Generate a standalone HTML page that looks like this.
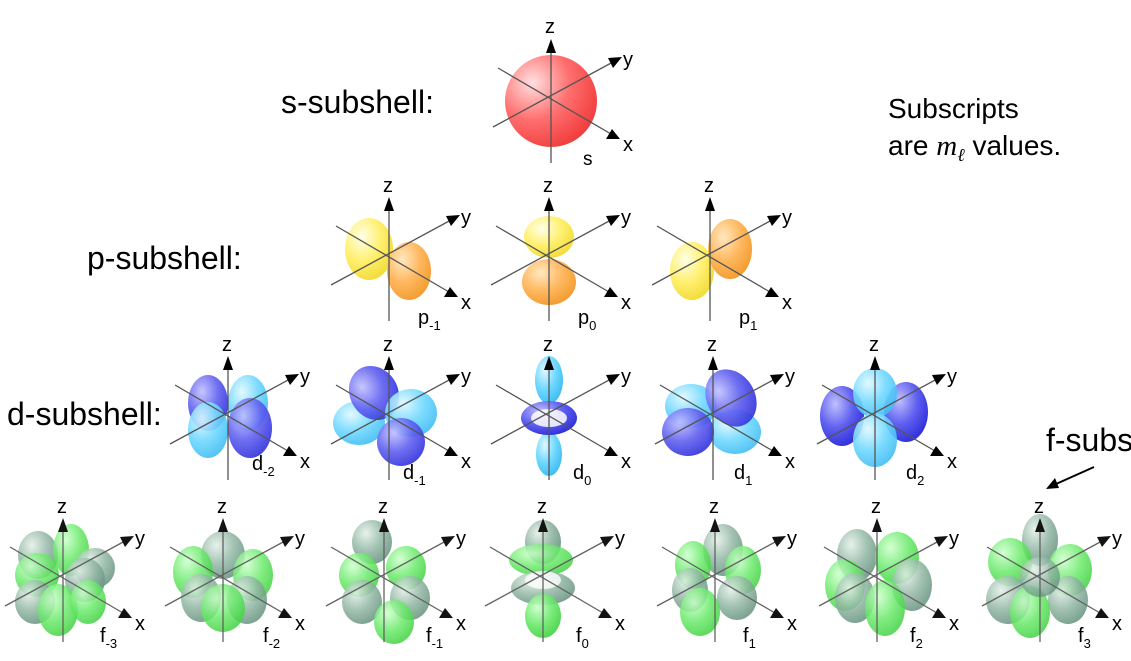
<!DOCTYPE html>
<html><head><meta charset="utf-8"><style>
html,body{margin:0;padding:0;background:#fff;}
svg{display:block;font-family:"Liberation Sans",sans-serif;}
</style></head><body>
<svg width="1131" height="661" viewBox="0 0 1131 661" xmlns="http://www.w3.org/2000/svg">
<defs>
<radialGradient id="red" cx="0.3" cy="0.3" r="0.8"><stop offset="0" stop-color="#ffe0e0"/><stop offset="0.5" stop-color="#ff7070"/><stop offset="1" stop-color="#f03838"/></radialGradient>
<radialGradient id="yel" cx="0.35" cy="0.3" r="0.8"><stop offset="0" stop-color="#ffffe8"/><stop offset="0.5" stop-color="#fff070"/><stop offset="1" stop-color="#f0d830"/></radialGradient>
<radialGradient id="org" cx="0.35" cy="0.3" r="0.8"><stop offset="0" stop-color="#ffe8c0"/><stop offset="0.5" stop-color="#ffb860"/><stop offset="1" stop-color="#f09828"/></radialGradient>
<radialGradient id="db" cx="0.35" cy="0.3" r="0.8"><stop offset="0" stop-color="#c0c0ff"/><stop offset="0.5" stop-color="#6060f0"/><stop offset="1" stop-color="#2828d8"/></radialGradient>
<radialGradient id="lb" cx="0.35" cy="0.3" r="0.8"><stop offset="0" stop-color="#e0f8ff"/><stop offset="0.5" stop-color="#70d8ff"/><stop offset="1" stop-color="#38b8f0"/></radialGradient>
<radialGradient id="gg" cx="0.35" cy="0.3" r="0.8"><stop offset="0" stop-color="#c8ffc8"/><stop offset="0.5" stop-color="#60e860"/><stop offset="1" stop-color="#28c828"/></radialGradient>
<radialGradient id="gy" cx="0.35" cy="0.3" r="0.8"><stop offset="0" stop-color="#e0eee6"/><stop offset="0.5" stop-color="#88b09c"/><stop offset="1" stop-color="#4e806a"/></radialGradient>
<g id="ax" stroke="#555" stroke-width="1.3" fill="#000">
<line x1="0" y1="62" x2="0" y2="-50"/>
<polygon points="0,-62 -5,-48 5,-48" stroke="none"/>
<line x1="-58" y1="26" x2="62" y2="-39"/>
<polygon points="71,-44 57,-43 62,-33" stroke="none"/>
<line x1="-53" y1="-33" x2="60" y2="33"/>
<polygon points="69,38 55,38 61,28" stroke="none"/>
</g>
</defs>

<g font-size="32" fill="#000">
<text x="281" y="113">s-subshell:</text>
<text x="87" y="269">p-subshell:</text>
<text x="7" y="425">d-subshell:</text>
<text x="1046" y="451">f-subs</text>
</g>
<g font-size="28" fill="#000">
<text x="888" y="118">Subscripts</text>
<text x="888" y="155">are <tspan font-family="Liberation Serif" font-style="italic" font-size="29">m</tspan><tspan font-family="Liberation Serif" font-style="italic" font-size="18" dy="6">ℓ</tspan><tspan dy="-6"> values.</tspan></text>
</g>
<line x1="1094" y1="467" x2="1056" y2="484" stroke="#000" stroke-width="2"/>
<polygon points="1046,489 1055,478 1059,488" fill="#000"/>

<!-- s -->
<g transform="translate(551,101)">
<circle r="46" fill="url(#red)"/>
<use href="#ax"/>
</g>

<!-- p -->
<g transform="translate(389,259)">
<ellipse cx="-20" cy="-10" rx="24" ry="31" fill="url(#yel)"/>
<ellipse cx="20" cy="12" rx="22" ry="29" fill="url(#org)"/>
<use href="#ax"/></g>
<g transform="translate(549,259)">
<ellipse cx="0" cy="-22" rx="25" ry="21" fill="url(#yel)"/>
<ellipse cx="0" cy="23" rx="27" ry="23" fill="url(#org)"/>
<use href="#ax"/></g>
<g transform="translate(710,259)">
<ellipse cx="-18" cy="12" rx="22" ry="29" fill="url(#yel)"/>
<ellipse cx="20" cy="-10" rx="22" ry="30" fill="url(#org)"/>
<use href="#ax"/></g>

<!-- d -->
<g transform="translate(228,418)">
<ellipse cx="-20" cy="-15" rx="20" ry="28" fill="url(#db)" opacity="0.9"/>
<ellipse cx="20" cy="-15" rx="20" ry="28" fill="url(#lb)" opacity="0.9"/>
<ellipse cx="-20" cy="12" rx="20" ry="28" fill="url(#lb)" opacity="0.9"/>
<ellipse cx="22" cy="10" rx="22" ry="30" fill="url(#db)" opacity="0.9"/>
<use href="#ax"/></g>
<g transform="translate(389,418)">
<ellipse cx="-30" cy="5" rx="26" ry="22" fill="url(#lb)" opacity="0.9"/>
<ellipse cx="-15" cy="-25" rx="24" ry="28" fill="url(#db)" transform="rotate(-30 -15 -25)" opacity="0.9"/>
<ellipse cx="22" cy="-5" rx="26" ry="24" fill="url(#lb)" opacity="0.9"/>
<ellipse cx="12" cy="24" rx="24" ry="24" fill="url(#db)" opacity="0.9"/>
<use href="#ax"/></g>
<g transform="translate(549,418)">
<ellipse cx="0" cy="-38" rx="14" ry="24" fill="url(#lb)"/>
<ellipse cx="0" cy="36" rx="13" ry="22" fill="url(#lb)"/>
<ellipse cx="0" cy="0" rx="28" ry="17" fill="url(#db)"/>
<ellipse cx="0" cy="0" rx="18" ry="9" fill="#fff" opacity="0.85"/>
<use href="#ax"/></g>
<g transform="translate(713,418)">
<ellipse cx="-22" cy="-12" rx="26" ry="22" fill="url(#lb)" opacity="0.9"/>
<ellipse cx="22" cy="14" rx="26" ry="22" fill="url(#lb)" opacity="0.9"/>
<ellipse cx="18" cy="-20" rx="24" ry="30" fill="url(#db)" transform="rotate(-30 18 -20)" opacity="0.9"/>
<ellipse cx="-25" cy="14" rx="26" ry="24" fill="url(#db)" opacity="0.9"/>
<use href="#ax"/></g>
<g transform="translate(875,418)">
<ellipse cx="-33" cy="-2" rx="22" ry="30" fill="url(#db)"/>
<ellipse cx="31" cy="-6" rx="22" ry="30" fill="url(#db)"/>
<ellipse cx="0" cy="-25" rx="22" ry="25" fill="url(#lb)" opacity="0.9"/>
<ellipse cx="0" cy="22" rx="22" ry="27" fill="url(#lb)" opacity="0.9"/>
<use href="#ax"/></g>

<!-- f -->
<g opacity="0.92">
<g transform="translate(63,580)">
<ellipse cx="-25" cy="-25" rx="20" ry="24" fill="url(#gy)" opacity="0.85"/>
<ellipse cx="8" cy="-30" rx="18" ry="26" fill="url(#gg)" opacity="0.85"/>
<ellipse cx="32" cy="-12" rx="20" ry="20" fill="url(#gy)" opacity="0.85"/>
<ellipse cx="-26" cy="-5" rx="22" ry="22" fill="url(#gg)" opacity="0.85"/>
<ellipse cx="22" cy="0" rx="20" ry="22" fill="url(#gy)" opacity="0.85"/>
<ellipse cx="-28" cy="22" rx="20" ry="22" fill="url(#gy)" opacity="0.85"/>
<ellipse cx="-5" cy="30" rx="20" ry="26" fill="url(#gg)" opacity="0.85"/>
<ellipse cx="25" cy="22" rx="18" ry="22" fill="url(#gg)" opacity="0.85"/>
<use href="#ax"/></g>
<g transform="translate(223,580)">
<ellipse cx="0" cy="-25" rx="22" ry="24" fill="url(#gy)" opacity="0.85"/>
<ellipse cx="-30" cy="-8" rx="20" ry="26" fill="url(#gg)" opacity="0.85"/>
<ellipse cx="30" cy="-5" rx="20" ry="26" fill="url(#gg)" opacity="0.85"/>
<ellipse cx="-22" cy="18" rx="20" ry="24" fill="url(#gy)" opacity="0.85"/>
<ellipse cx="24" cy="20" rx="20" ry="24" fill="url(#gy)" opacity="0.85"/>
<ellipse cx="0" cy="28" rx="22" ry="24" fill="url(#gg)" opacity="0.85"/>
<use href="#ax"/></g>
<g transform="translate(384,580)">
<ellipse cx="-12" cy="-38" rx="20" ry="22" fill="url(#gy)" opacity="0.85"/>
<ellipse cx="-25" cy="-5" rx="20" ry="22" fill="url(#gg)" opacity="0.85"/>
<ellipse cx="22" cy="-12" rx="20" ry="22" fill="url(#gg)" opacity="0.85"/>
<ellipse cx="-22" cy="22" rx="20" ry="22" fill="url(#gy)" opacity="0.85"/>
<ellipse cx="26" cy="18" rx="20" ry="22" fill="url(#gy)" opacity="0.85"/>
<ellipse cx="10" cy="42" rx="20" ry="22" fill="url(#gg)" opacity="0.85"/>
<use href="#ax"/></g>
<g transform="translate(543,580)">
<ellipse cx="0" cy="-38" rx="18" ry="22" fill="url(#gy)" opacity="0.9"/>
<ellipse cx="-2" cy="-20" rx="32" ry="16" fill="url(#gg)" opacity="0.85"/>
<ellipse cx="0" cy="8" rx="32" ry="17" fill="url(#gy)" opacity="0.85"/>
<ellipse cx="0" cy="0" rx="18" ry="9" fill="#fff" opacity="0.8"/>
<ellipse cx="0" cy="36" rx="18" ry="22" fill="url(#gg)" opacity="0.9"/>
<use href="#ax"/></g>
<g transform="translate(715,580)">
<ellipse cx="8" cy="-30" rx="20" ry="26" fill="url(#gy)" opacity="0.85"/>
<ellipse cx="-22" cy="-15" rx="18" ry="24" fill="url(#gg)" opacity="0.85"/>
<ellipse cx="28" cy="-10" rx="18" ry="24" fill="url(#gg)" opacity="0.85"/>
<ellipse cx="-25" cy="10" rx="18" ry="22" fill="url(#gy)" opacity="0.85"/>
<ellipse cx="22" cy="18" rx="20" ry="22" fill="url(#gy)" opacity="0.85"/>
<ellipse cx="-15" cy="32" rx="20" ry="24" fill="url(#gg)" opacity="0.85"/>
<use href="#ax"/></g>
<g transform="translate(877,580)">
<ellipse cx="-20" cy="-25" rx="20" ry="26" fill="url(#gy)" opacity="0.85"/>
<ellipse cx="20" cy="-22" rx="22" ry="26" fill="url(#gg)" opacity="0.85"/>
<ellipse cx="-32" cy="5" rx="20" ry="26" fill="url(#gg)" opacity="0.85"/>
<ellipse cx="35" cy="5" rx="20" ry="26" fill="url(#gy)" opacity="0.85"/>
<ellipse cx="-22" cy="18" rx="20" ry="25" fill="url(#gy)" opacity="0.85"/>
<ellipse cx="8" cy="28" rx="20" ry="28" fill="url(#gg)" opacity="0.85"/>
<use href="#ax"/></g>
<g transform="translate(1040,580)">
<ellipse cx="0" cy="-40" rx="18" ry="26" fill="url(#gy)" opacity="0.85"/>
<ellipse cx="-30" cy="-18" rx="22" ry="24" fill="url(#gg)" opacity="0.85"/>
<ellipse cx="30" cy="-10" rx="22" ry="26" fill="url(#gg)" opacity="0.85"/>
<ellipse cx="-32" cy="20" rx="22" ry="24" fill="url(#gy)" opacity="0.85"/>
<ellipse cx="28" cy="20" rx="20" ry="24" fill="url(#gy)" opacity="0.85"/>
<ellipse cx="-10" cy="32" rx="20" ry="26" fill="url(#gg)" opacity="0.85"/>
<circle cx="0" cy="-3" r="20" fill="url(#gy)" opacity="0.8"/>
<use href="#ax"/></g>
</g>

<g font-size="20" fill="#000">
<text x="545" y="33">z</text><text x="623" y="66">y</text><text x="623" y="151">x</text>
<text x="583" y="165" font-size="19">s</text>
<text x="383" y="192">z</text><text x="461" y="224">y</text><text x="461" y="309">x</text>
<text x="418" y="324">p<tspan font-size="13" dy="6">-1</tspan></text>
<text x="543" y="192">z</text><text x="621" y="224">y</text><text x="621" y="309">x</text>
<text x="578" y="324">p<tspan font-size="13" dy="6">0</tspan></text>
<text x="704" y="192">z</text><text x="782" y="224">y</text><text x="782" y="309">x</text>
<text x="739" y="324">p<tspan font-size="13" dy="6">1</tspan></text>
<text x="222" y="351">z</text><text x="300" y="383">y</text><text x="300" y="468">x</text>
<text x="252" y="470">d<tspan font-size="13" dy="6">-2</tspan></text>
<text x="383" y="351">z</text><text x="461" y="383">y</text><text x="461" y="468">x</text>
<text x="403" y="479">d<tspan font-size="13" dy="6">-1</tspan></text>
<text x="543" y="351">z</text><text x="621" y="383">y</text><text x="621" y="468">x</text>
<text x="573" y="479">d<tspan font-size="13" dy="6">0</tspan></text>
<text x="707" y="351">z</text><text x="785" y="383">y</text><text x="785" y="468">x</text>
<text x="734" y="479">d<tspan font-size="13" dy="6">1</tspan></text>
<text x="869" y="351">z</text><text x="947" y="383">y</text><text x="947" y="468">x</text>
<text x="906" y="479">d<tspan font-size="13" dy="6">2</tspan></text>
<text x="57" y="513">z</text><text x="135" y="545">y</text><text x="135" y="630">x</text>
<text x="100" y="642">f<tspan font-size="13" dy="6">-3</tspan></text>
<text x="217" y="513">z</text><text x="295" y="545">y</text><text x="295" y="630">x</text>
<text x="263" y="642">f<tspan font-size="13" dy="6">-2</tspan></text>
<text x="378" y="513">z</text><text x="456" y="545">y</text><text x="456" y="630">x</text>
<text x="426" y="642">f<tspan font-size="13" dy="6">-1</tspan></text>
<text x="537" y="513">z</text><text x="615" y="545">y</text><text x="615" y="630">x</text>
<text x="576" y="642">f<tspan font-size="13" dy="6">0</tspan></text>
<text x="709" y="513">z</text><text x="787" y="545">y</text><text x="787" y="630">x</text>
<text x="743" y="642">f<tspan font-size="13" dy="6">1</tspan></text>
<text x="871" y="513">z</text><text x="949" y="545">y</text><text x="949" y="630">x</text>
<text x="910" y="642">f<tspan font-size="13" dy="6">2</tspan></text>
<text x="1034" y="513">z</text><text x="1112" y="545">y</text><text x="1112" y="630">x</text>
<text x="1078" y="642">f<tspan font-size="13" dy="6">3</tspan></text>
</g>
</svg>
</body></html>
